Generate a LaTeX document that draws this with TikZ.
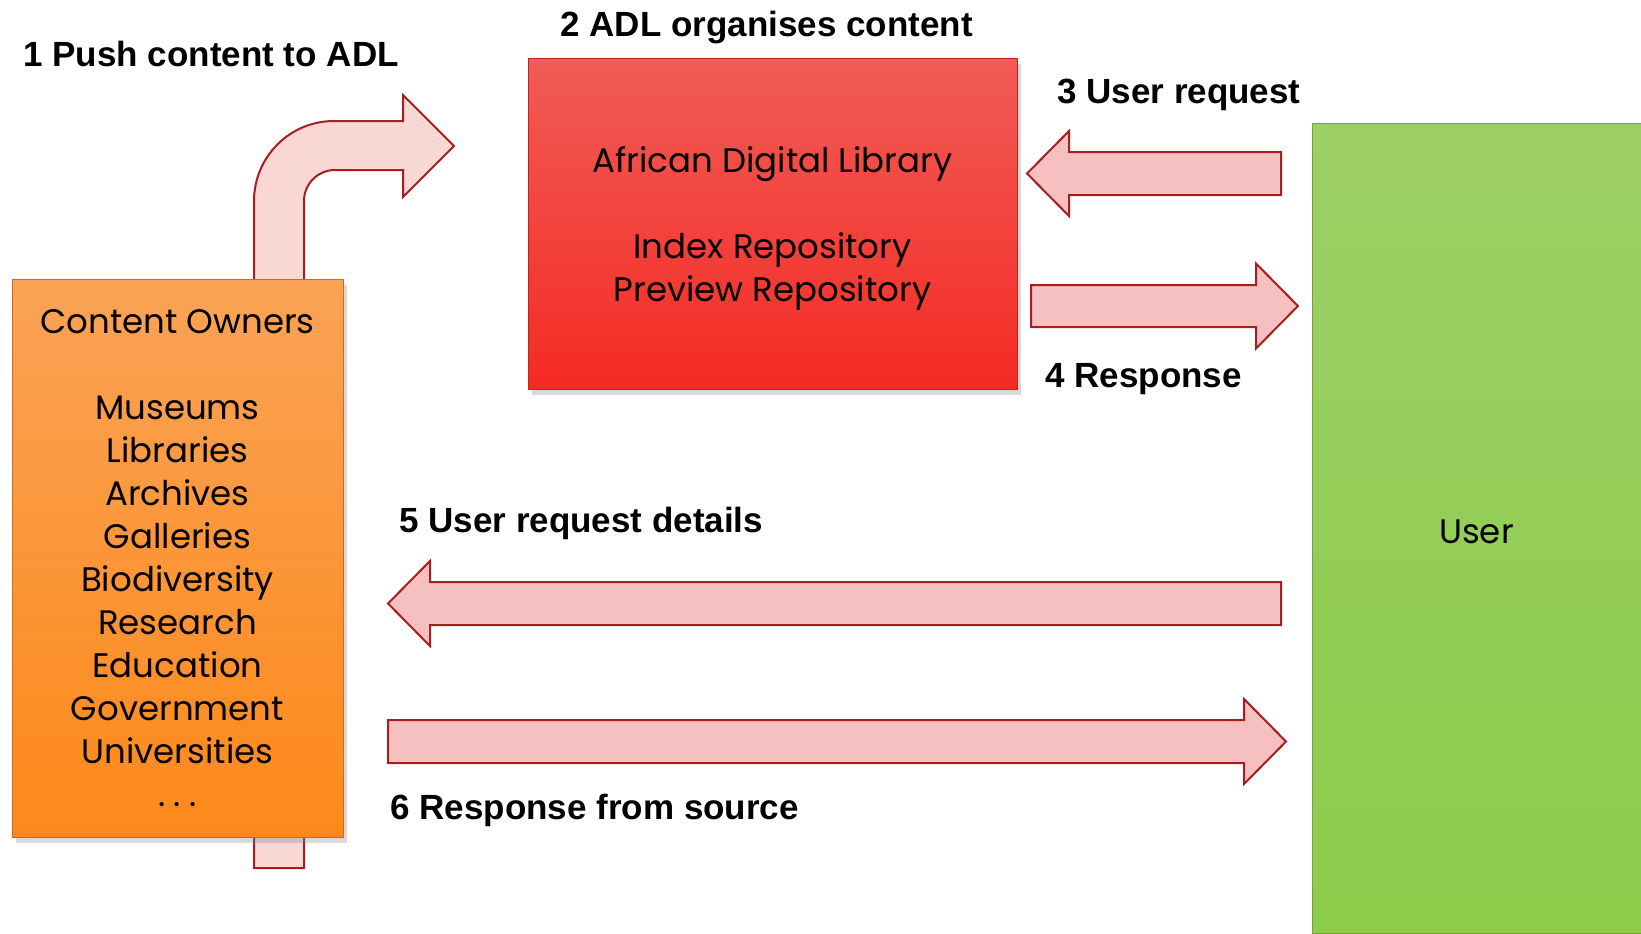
\documentclass[tikz,border=0pt]{standalone}
\usepackage{fontspec}
\setmainfont{Poppins}
\newfontfamily\labelfont{Liberation Sans}
\usetikzlibrary{shadows}

\definecolor{ownertop}{RGB}{250,163,86}
\definecolor{ownerbot}{RGB}{253,137,26}
\definecolor{adltop}{RGB}{240,92,86}
\definecolor{adlbot}{RGB}{245,42,36}
\definecolor{usertop}{RGB}{156,207,102}
\definecolor{userbot}{RGB}{140,204,74}
\definecolor{arrowfill}{RGB}{245,192,191}
\definecolor{bentfill}{RGB}{248,215,213}
\definecolor{arrowline}{RGB}{168,30,30}

\newcommand{\boxtext}{\fontsize{17}{21.5}\selectfont}

\tikzset{
  box/.style={rectangle, inner sep=0pt, align=center, font=\boxtext,
    drop shadow={shadow xshift=2pt, shadow yshift=-3pt, opacity=0.3}},
  steplabel/.style={anchor=base west, inner sep=0pt,
    font=\labelfont\bfseries\fontsize{17.5}{21}\selectfont},
  blockarrow/.style={draw=arrowline, fill=arrowfill, line width=1pt, line join=miter}
}

\begin{document}
\begin{tikzpicture}[x=0.5pt,y=-0.5pt]
    \useasboundingbox (0,0) rectangle (1641,933);

    \draw[blockarrow, fill=bentfill]
        (254,868) -- (254,201) arc[start angle=180, end angle=270, radius=80]
        -- (403,121) -- (403,95) -- (454,146) -- (403,197) -- (403,170)
        -- (335,170) arc[start angle=270, end angle=180, radius=31]
        -- (304,868) -- cycle;

    \node[box, draw=ownerbot!80!black, top color=ownertop, bottom color=ownerbot,
        minimum width=165.5pt, minimum height=279pt] (owners) at (177.5,558)
        {Content Owners\\[21.5pt] Museums\\ Libraries\\ Archives\\ Galleries\\
         Biodiversity\\ Research\\ Education\\ Government\\ Universities\\
         .\hspace{4pt}.\hspace{4pt}.};
    \node[box, draw=adlbot!80!black, top color=adltop, bottom color=adlbot,
        minimum width=244.5pt, minimum height=165.5pt] (adl) at (772.5,223.5)
        {\raisebox{-2.6pt}[\height][\depth]{\begin{tabular}{@{}c@{}}African Digital Library\\[21.5pt]
         Index Repository\\ Preview Repository\end{tabular}}};
    \node[box, draw=userbot!80!black, top color=usertop, bottom color=userbot,
        minimum width=164.5pt, minimum height=405pt] (user) at (1476.5,528)
        {\raisebox{-2.1pt}[\height][\depth]{User}};

    \draw[blockarrow] (1281,152) -- (1069,152) -- (1069,131) -- (1027,173.5)
        -- (1069,216) -- (1069,195) -- (1281,195) -- cycle;
    \draw[blockarrow] (1031,285) -- (1256,285) -- (1256,263.5) -- (1298,306)
        -- (1256,348.5) -- (1256,327) -- (1031,327) -- cycle;
    \draw[blockarrow] (1281,582) -- (430,582) -- (430,561) -- (388,603.5)
        -- (430,646) -- (430,625) -- (1281,625) -- cycle;
    \draw[blockarrow] (388,720) -- (1244,720) -- (1244,699) -- (1286,741.5)
        -- (1244,784) -- (1244,763) -- (388,763) -- cycle;

    \node[steplabel] (lpush)     at (23,66)   {1 Push content to ADL};
    \node[steplabel] (lorganise) at (560,36)  {2 ADL organises content};
    \node[steplabel] (lrequest)  at (1057,103) {3 User request};
    \node[steplabel] (lresponse) at (1045,387) {4 Response};
    \node[steplabel] (ldetails)  at (399,532) {5 User request details};
    \node[steplabel] (lsource)   at (390,819) {6 Response from source};
\end{tikzpicture}
\end{document}
